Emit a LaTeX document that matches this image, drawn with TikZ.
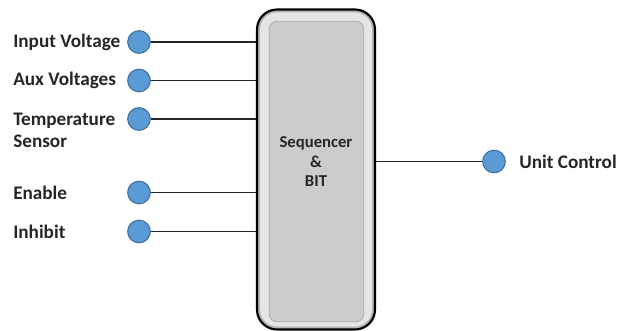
\documentclass[tikz,border=0pt]{standalone}
\usepackage{fontspec}
\setmainfont{Carlito}
\usetikzlibrary{positioning}
\definecolor{pinblue}{HTML}{5B9BD5}
\definecolor{pinedge}{HTML}{41719C}
\definecolor{labeltext}{HTML}{262626}
\tikzset{
  pin dot/.style={circle, fill=pinblue, draw=pinedge, line width=0.8pt, minimum size=17pt, inner sep=0pt},
  pin label/.style={anchor=west, inner sep=0pt, text=labeltext, font=\bfseries\fontsize{14.4}{17}\selectfont, align=left},
  wire/.style={line width=1.4pt, black!85}
}
\begin{document}
\begin{tikzpicture}[x=0.75pt,y=-0.75pt]
        \useasboundingbox (0,0) rectangle (627,331);
        \node[draw=black, line width=1.6pt, fill=gray!60, rounded corners=15pt, minimum width=88.5pt, minimum height=240pt] (seq) at (316,169.5) {};
        \node[fill=gray!20, rounded corners=13pt, minimum width=84pt, minimum height=235.5pt] (rim) at (316,169.5) {};
        \node[fill=gray!40, draw=gray!65, line width=0.6pt, rounded corners=6pt, minimum width=71pt, minimum height=225.5pt] (panel) at (316.5,171.5) {};
        \node[text=labeltext, font=\bfseries\fontsize{12.5}{14.6}\selectfont, align=center] (name) at (316,162) {Sequencer\\\&\\BIT};
        \node[pin dot] (vin) at (139,42) {};
        \node[pin dot] (aux) at (139,80.5) {};
        \node[pin dot] (temp) at (139,119) {};
        \node[pin dot] (en) at (139,192.5) {};
        \node[pin dot] (inh) at (139,231.5) {};
        \node[pin dot] (unit) at (494,161.5) {};
        \node[pin label] (vinL) at (13,42) {Input Voltage};
        \node[pin label] (auxL) at (13,80.5) {Aux Voltages};
        \node[pin label] (tempL) at (13,130.5) {Temperature\\Sensor};
        \node[pin label] (enL) at (13,192.5) {Enable};
        \node[pin label] (inhL) at (13,231.5) {Inhibit};
        \node[pin label] (unitL) at (519,161.5) {Unit Control};
        \draw[wire] (vin) -- (vin -| seq.west);
        \draw[wire] (aux) -- (aux -| seq.west);
        \draw[wire] (temp) -- (temp -| seq.west);
        \draw[wire] (en) -- (en -| seq.west);
        \draw[wire] (inh) -- (inh -| seq.west);
        \draw[wire] (unit) -- (unit -| seq.east);
    \end{tikzpicture}
\end{document}
